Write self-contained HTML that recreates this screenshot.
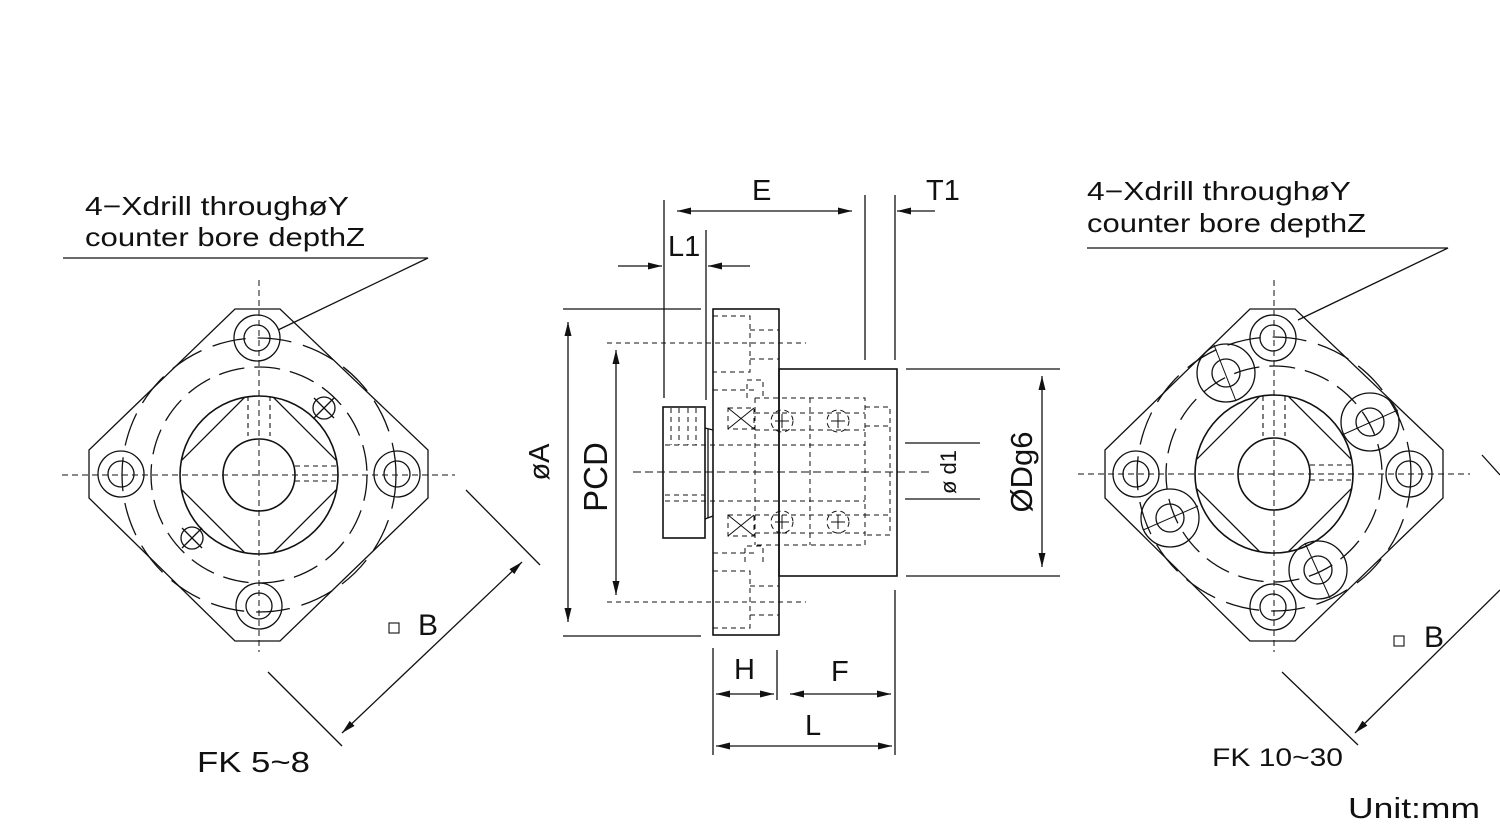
<!DOCTYPE html>
<html><head><meta charset="utf-8"><style>
html,body{margin:0;padding:0;background:#fff;}
svg{display:block;}
text{font-family:"Liberation Sans",Arial,sans-serif;fill:#111;}
</style></head><body>
<svg width="1500" height="826" viewBox="0 0 1500 826" xmlns="http://www.w3.org/2000/svg">
<defs>
<marker id="ar" viewBox="0 0 14 10" refX="14" refY="5" markerWidth="14" markerHeight="10" markerUnits="userSpaceOnUse" orient="auto-start-reverse"><path d="M0,1.5 L14,5 L0,8.5 Z" fill="#111"/></marker>
<clipPath id="cL"><circle cx="259" cy="475" r="79"/></clipPath>
<clipPath id="cR"><circle cx="1274" cy="474" r="79"/></clipPath>
</defs>
<g fill="none" stroke="#111" stroke-width="1.3">
<!-- LEFT VIEW -->
<polygon points="235,309 280,309 428,450 428,498 280,641 235,641 89,498 89,450"/>
<circle cx="259" cy="475" r="137" stroke-dasharray="34 12"/>
<circle cx="259" cy="475" r="108" stroke-dasharray="26 10"/>
<circle cx="259" cy="475" r="79" stroke-width="1.6"/>
<circle cx="259" cy="475" r="36" stroke-width="1.6"/>
<polygon points="259,383 351,475 259,567 167,475" clip-path="url(#cL)"/>
<g stroke-dasharray="5 4" stroke-width="1.1">
<line x1="248" y1="396" x2="248" y2="436"/><line x1="270" y1="396" x2="270" y2="436"/>
<line x1="295" y1="466" x2="336" y2="466"/><line x1="295" y1="481" x2="336" y2="481"/>
</g>
<circle cx="257" cy="338" r="23"/><circle cx="257" cy="338" r="13"/>
<circle cx="121" cy="474" r="23"/><circle cx="121" cy="474" r="13"/>
<circle cx="397" cy="474" r="23"/><circle cx="397" cy="474" r="13"/>
<circle cx="259" cy="606" r="23"/><circle cx="259" cy="606" r="13"/>
<circle cx="324" cy="408" r="11"/><line x1="314" y1="398" x2="334" y2="418"/><line x1="334" y1="398" x2="314" y2="418"/>
<circle cx="192" cy="538" r="11"/><line x1="182" y1="528" x2="202" y2="548"/><line x1="202" y1="528" x2="182" y2="548"/>
<g stroke-dasharray="6 4" stroke-width="1"><line x1="259" y1="280" x2="259" y2="652"/><line x1="62" y1="475" x2="455" y2="475"/></g>
<polyline points="278,330 428,258 63,258"/>
<line x1="466" y1="490" x2="540" y2="565"/><line x1="268" y1="672" x2="342" y2="746"/>
<line x1="522" y1="562" x2="342" y2="733" marker-start="url(#ar)" marker-end="url(#ar)"/>
<rect x="389" y="623" width="10" height="10" stroke-width="1.1"/>

<!-- MIDDLE VIEW -->
<rect x="713" y="309" width="66" height="326" stroke-width="1.6"/>
<rect x="779" y="369" width="118" height="207" stroke-width="1.6"/>
<rect x="663" y="407" width="42" height="131" stroke-width="1.6"/>
<polyline points="705,428 713,430"/><polyline points="705,519 713,516"/>
<line x1="708" y1="429" x2="708" y2="518"/>
<g stroke-dasharray="5 4" stroke-width="1">
<line x1="607" y1="343" x2="806" y2="343"/><line x1="607" y1="602" x2="806" y2="602"/>
<line x1="633" y1="472" x2="930" y2="472" stroke-dasharray="8 4"/>
<polyline points="713,316 750,316 750,372 713,372"/><polyline points="750,330 779,330"/><polyline points="750,359 779,359"/>
<polyline points="713,628 750,628 750,571 713,571"/><polyline points="750,586 779,586"/><polyline points="750,615 779,615"/>
<polyline points="747,398 747,380 763,380 763,398"/><polyline points="745,562 745,546 763,546 763,562"/>
<line x1="713" y1="390" x2="755" y2="390"/><line x1="713" y1="553" x2="755" y2="553"/>
<rect x="728" y="408" width="26" height="21"/><rect x="728" y="515" width="26" height="21"/>
<polyline points="755,398 755,545"/>
<polyline points="755,398 865,398 865,545 755,545"/>
<line x1="665" y1="445" x2="865" y2="445"/><line x1="665" y1="501" x2="865" y2="501"/>
<line x1="810" y1="398" x2="810" y2="545"/>
<polyline points="865,407 890,407 890,535 865,535"/><line x1="865" y1="426" x2="890" y2="426"/><line x1="865" y1="515" x2="890" y2="515"/>
<line x1="755" y1="413" x2="865" y2="413"/><line x1="755" y1="430" x2="865" y2="430"/>
<line x1="755" y1="515" x2="865" y2="515"/><line x1="755" y1="533" x2="865" y2="533"/>
<line x1="671" y1="408" x2="671" y2="445"/><line x1="679" y1="408" x2="679" y2="445"/><line x1="688" y1="408" x2="688" y2="445"/><line x1="696" y1="408" x2="696" y2="445"/>
<line x1="665" y1="495" x2="705" y2="495"/>
<circle cx="782" cy="421" r="11"/><circle cx="838" cy="421" r="11"/>
<circle cx="782" cy="522" r="11"/><circle cx="838" cy="522" r="11"/>
</g>
<g stroke-width="1">
<line x1="728" y1="408" x2="754" y2="429"/><line x1="754" y1="408" x2="728" y2="429"/>
<line x1="728" y1="515" x2="754" y2="536"/><line x1="754" y1="515" x2="728" y2="536"/>
<path d="M775,421h14M782,414v14M831,421h14M838,414v14M775,522h14M782,515v14M831,522h14M838,515v14"/>
</g>
<line x1="563" y1="309" x2="701" y2="309"/><line x1="563" y1="636" x2="701" y2="636"/>
<line x1="568" y1="322" x2="568" y2="622" marker-start="url(#ar)" marker-end="url(#ar)"/>
<line x1="616" y1="350" x2="616" y2="595" marker-start="url(#ar)" marker-end="url(#ar)"/>
<line x1="906" y1="369" x2="1060" y2="369"/><line x1="906" y1="576" x2="1060" y2="576"/>
<line x1="1042" y1="376" x2="1042" y2="567" marker-start="url(#ar)" marker-end="url(#ar)"/>
<line x1="905" y1="443" x2="980" y2="443"/><line x1="905" y1="499" x2="980" y2="499"/>
<line x1="664" y1="200" x2="664" y2="398"/>
<line x1="706" y1="230" x2="706" y2="400"/>
<line x1="865" y1="195" x2="865" y2="360"/>
<line x1="895" y1="195" x2="895" y2="360"/>
<line x1="677" y1="211" x2="852" y2="211" marker-start="url(#ar)" marker-end="url(#ar)"/>
<line x1="935" y1="211" x2="897" y2="211" marker-end="url(#ar)"/>
<line x1="618" y1="266" x2="662" y2="266" marker-end="url(#ar)"/>
<line x1="750" y1="266" x2="708" y2="266" marker-end="url(#ar)"/>
<line x1="713" y1="648" x2="713" y2="755"/><line x1="777" y1="650" x2="777" y2="700"/>
<line x1="895" y1="590" x2="895" y2="755"/>
<line x1="716" y1="694" x2="774" y2="694" marker-start="url(#ar)" marker-end="url(#ar)"/>
<line x1="790" y1="694" x2="891" y2="694" marker-start="url(#ar)" marker-end="url(#ar)"/>
<line x1="716" y1="746" x2="892" y2="746" marker-start="url(#ar)" marker-end="url(#ar)"/>

<!-- RIGHT VIEW -->
<polygon points="1250,309 1295,309 1443,450 1443,498 1295,641 1250,641 1105,498 1105,450"/>
<circle cx="1274" cy="474" r="137" stroke-dasharray="34 12"/>
<circle cx="1274" cy="474" r="108" stroke-dasharray="26 10"/>
<circle cx="1274" cy="474" r="79" stroke-width="1.6"/>
<circle cx="1274" cy="474" r="36" stroke-width="1.6"/>
<polygon points="1274,382 1366,474 1274,566 1182,474" clip-path="url(#cR)"/>
<g stroke-dasharray="5 4" stroke-width="1.1">
<line x1="1263" y1="396" x2="1263" y2="436"/><line x1="1285" y1="396" x2="1285" y2="436"/>
<line x1="1310" y1="465" x2="1351" y2="465"/><line x1="1310" y1="480" x2="1351" y2="480"/>
</g>
<circle cx="1273" cy="338" r="23"/><circle cx="1273" cy="338" r="13"/>
<circle cx="1136" cy="474" r="23"/><circle cx="1136" cy="474" r="13"/>
<circle cx="1409" cy="474" r="23"/><circle cx="1409" cy="474" r="13"/>
<circle cx="1273" cy="607" r="23"/><circle cx="1273" cy="607" r="13"/>
<circle cx="1226" cy="373" r="29"/><circle cx="1226" cy="373" r="14"/>
<circle cx="1370" cy="422" r="29"/><circle cx="1370" cy="422" r="14"/>
<circle cx="1170" cy="518" r="29"/><circle cx="1170" cy="518" r="14"/>
<circle cx="1318" cy="570" r="29"/><circle cx="1318" cy="570" r="14"/>
<g stroke-width="1">
<line x1="1214" y1="345" x2="1236" y2="401"/><line x1="1342" y1="435" x2="1398" y2="410"/>
<line x1="1143" y1="530" x2="1198" y2="506"/><line x1="1305" y1="543" x2="1330" y2="598"/>
</g>
<g stroke-dasharray="6 4" stroke-width="1"><line x1="1274" y1="280" x2="1274" y2="652"/><line x1="1078" y1="474" x2="1470" y2="474"/></g>
<polyline points="1298,320 1448,248 1087,248"/>
<line x1="1482" y1="455" x2="1500" y2="475"/><line x1="1282" y1="672" x2="1358" y2="745"/>
<line x1="1500" y1="590" x2="1355" y2="733" marker-end="url(#ar)"/>
<rect x="1394" y="636" width="10" height="10" stroke-width="1.1"/>
</g>
<!-- TEXT -->
<g font-size="26">
<text x="85" y="215" textLength="264" lengthAdjust="spacingAndGlyphs">4−Xdrill throughøY</text>
<text x="85" y="246" textLength="280" lengthAdjust="spacingAndGlyphs">counter bore depthZ</text>
<text x="1087" y="200" textLength="264" lengthAdjust="spacingAndGlyphs">4−Xdrill throughøY</text>
<text x="1087" y="232" textLength="279" lengthAdjust="spacingAndGlyphs">counter bore depthZ</text>
</g>
<text x="418" y="635" font-size="30">B</text>
<text x="1424" y="647" font-size="30">B</text>
<text x="197" y="772" font-size="29" textLength="113" lengthAdjust="spacingAndGlyphs">FK 5~8</text>
<text x="1212" y="766" font-size="25" textLength="131" lengthAdjust="spacingAndGlyphs">FK 10~30</text>
<text x="1348" y="818" font-size="29" textLength="132" lengthAdjust="spacingAndGlyphs">Unit:mm</text>
<text x="752" y="200" font-size="29">E</text>
<text x="926" y="200" font-size="29">T1</text>
<text x="668" y="256" font-size="29">L1</text>
<text x="734" y="679" font-size="29">H</text>
<text x="831" y="681" font-size="29">F</text>
<text x="805" y="735" font-size="29">L</text>
<text transform="translate(549,462) rotate(-90)" font-size="29" text-anchor="middle">øA</text>
<text transform="translate(607,477) rotate(-90)" font-size="33" text-anchor="middle">PCD</text>
<text transform="translate(1032,472) rotate(-90)" font-size="31" text-anchor="middle">ØDg6</text>
<text transform="translate(956,472) rotate(-90)" font-size="22" text-anchor="middle">ø d1</text>
</svg>
</body></html>
